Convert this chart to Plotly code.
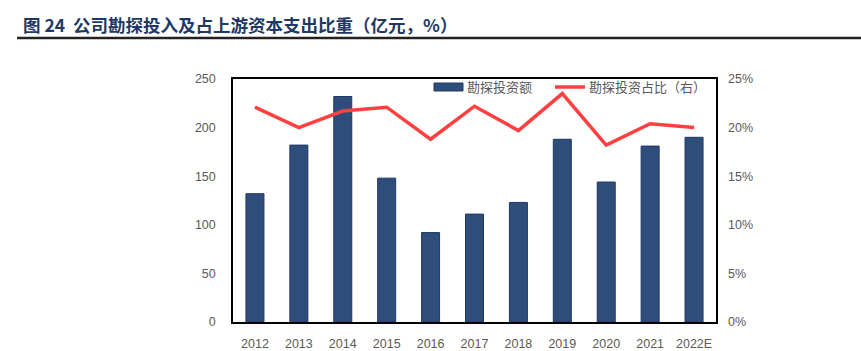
import plotly.graph_objects as go

years = ["2012", "2013", "2014", "2015", "2016", "2017", "2018", "2019", "2020", "2021", "2022E"]
invest = [132, 182, 232, 148, 92, 111, 123, 188, 144, 181, 190]
share = [22.1, 20.0, 21.7, 22.1, 18.8, 22.2, 19.7, 23.5, 18.2, 20.4, 20.0]

W, H = 861, 351
L, R, T, B = 233, 716, 79, 322

fig = go.Figure()
fig.add_trace(go.Bar(x=years, y=invest, name="勘探投资额",
                     marker=dict(color="#2F4D7A", line=dict(color="#1F3864", width=1)),
                     yaxis="y"))
fig.add_trace(go.Scatter(x=years, y=share, name="勘探投资占比（右）", mode="lines",
                         line=dict(color="#FF4040", width=3.5), yaxis="y2"))

tickfont = dict(family="Liberation Sans, Noto Sans CJK SC", size=12.5, color="#595959")

def fx(x):
    return (x - L) / (R - L)

def fy(y):
    return (B - y) / (B - T)

fig.update_layout(
    width=W, height=H,
    margin=dict(l=L, r=W - R, t=T, b=H - B),
    plot_bgcolor="white", paper_bgcolor="white",
    bargap=0.59,
    showlegend=False,
    xaxis=dict(showline=True, linecolor="black", linewidth=1.5, mirror=True,
               ticks="", tickfont=tickfont, showgrid=False, ticklabelstandoff=9,
               automargin=False),
    yaxis=dict(range=[0, 250], dtick=50, showgrid=False, showline=True,
               linecolor="black", linewidth=1.5, mirror=True, zeroline=False,
               ticks="", tickfont=tickfont, ticklabelstandoff=13, automargin=False),
    yaxis2=dict(range=[0, 25], dtick=5, overlaying="y", side="right",
                showgrid=False, showline=False, ticks="", ticksuffix="%",
                zeroline=False, tickfont=tickfont, ticklabelstandoff=11,
                automargin=False),
    font=dict(family="Noto Sans CJK SC"),
)

# title
fig.add_annotation(text="<b>图 24  公司勘探投入及占上游资本支出比重（亿元，%）</b>",
                   xref="paper", yref="paper",
                   x=fx(21), y=fy(25),
                   xanchor="left", yanchor="middle", showarrow=False,
                   font=dict(family="Noto Sans CJK SC", size=17.5, color="#1F3864"))
fig.add_shape(type="line", xref="paper", yref="paper",
              x0=fx(17), x1=fx(W), y0=fy(38), y1=fy(38),
              line=dict(color="#222222", width=2.5))

# custom legend
ly = fy(87)
fig.add_shape(type="rect", xref="paper", yref="paper",
              x0=fx(434), x1=fx(463), y0=fy(91), y1=fy(83),
              fillcolor="#2F4D7A", line=dict(color="#1F3864", width=1))
fig.add_annotation(text="勘探投资额", xref="paper", yref="paper",
                   x=fx(465), y=ly, xanchor="left", yanchor="middle",
                   showarrow=False,
                   font=dict(family="Noto Sans CJK SC", size=13, color="#595959"))
fig.add_shape(type="line", xref="paper", yref="paper",
              x0=fx(555), x1=fx(585), y0=ly, y1=ly,
              line=dict(color="#FF4040", width=3.5))
fig.add_annotation(text="勘探投资占比（右）", xref="paper", yref="paper",
                   x=fx(587), y=ly, xanchor="left", yanchor="middle",
                   showarrow=False,
                   font=dict(family="Noto Sans CJK SC", size=13, color="#595959"))

fig.write_html("out.html")
